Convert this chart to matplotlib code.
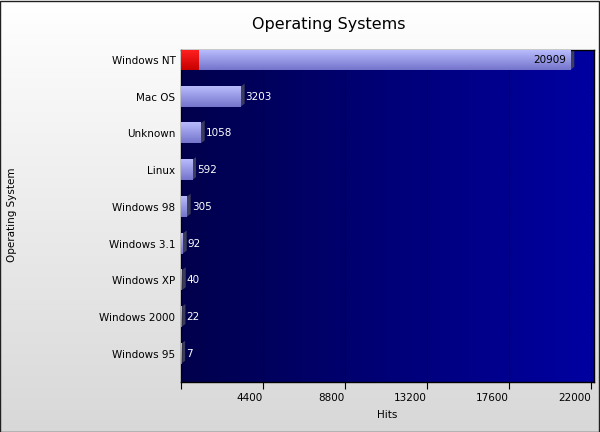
import numpy as np
import matplotlib
matplotlib.use('Agg')
import matplotlib.pyplot as plt
from matplotlib.patches import Rectangle, Polygon
from matplotlib.colors import LinearSegmentedColormap

sistemas = ['Windows NT', 'Mac OS', 'Unknown', 'Linux', 'Windows 98',
            'Windows 3.1', 'Windows XP', 'Windows 2000', 'Windows 95']
hits = [20909, 3203, 1058, 592, 305, 92, 40, 22, 7]
destaque = 920  # red selection on the first bar
ticks_x = [0, 4400, 8800, 13200, 17600, 22000]
rotulos_x = ['', '4400', '8800', '13200', '17600', '22000']

fig = plt.figure(figsize=(6, 4.32), dpi=100)

# figure background: white to light gray
fundo = fig.add_axes([0, 0, 1, 1], zorder=-10)
grad = np.linspace(1.0, 0.0, 256).reshape(-1, 1)
cmap_fundo = LinearSegmentedColormap.from_list('fundo', ['#d8d8d8', '#ffffff'])
fundo.imshow(grad, aspect='auto', cmap=cmap_fundo, extent=[0, 1, 0, 1], origin='upper')
fundo.set_xlim(0, 1)
fundo.set_ylim(0, 1)
fundo.axis('off')
fundo.add_patch(Rectangle((0.0008, 0.001), 0.9975, 0.9975, fill=False,
                          edgecolor='#202020', linewidth=1.0))

ax = fig.add_axes([181 / 600, 1 - 382 / 432, 413 / 600, 332 / 432])
xmax = 22180
ax.set_xlim(0, xmax)
ax.set_ylim(8.77, -0.27)

# plot area gradient
cmap_area = LinearSegmentedColormap.from_list('area', ['#00004c', '#0000a2'])
ax.imshow(np.linspace(0, 1, 256).reshape(1, -1), aspect='auto', cmap=cmap_area,
          extent=[0, xmax, 8.77, -0.27], zorder=0)

for t in ticks_x[1:]:
    ax.axvline(t, color='#000028', linestyle=(0, (1, 1)), linewidth=0.8, zorder=1)

cmap_barra = LinearSegmentedColormap.from_list('barra', ['#b8bcfc', '#7474cc'])
cmap_verm = LinearSegmentedColormap.from_list('verm', ['#ff2020', '#c80000'])
altura = 0.545
px_x = xmax / 413
px_y = 9.04 / 332
for i, (nome, v) in enumerate(zip(sistemas, hits)):
    y0 = i - altura / 2
    y1 = i + altura / 2
    # side face for 3D look
    lado = Polygon([(v, y1), (v, y0), (v + 4 * px_x, y0 - 3 * px_y),
                    (v + 4 * px_x, y1 - 3 * px_y)], closed=True,
                   facecolor='#3c3c5c', edgecolor='none', zorder=2)
    ax.add_patch(lado)
    ax.imshow(np.linspace(0, 1, 64).reshape(-1, 1), aspect='auto', cmap=cmap_barra,
              extent=[0, v, y1, y0], origin='upper', zorder=3)
    if v + 60 * px_x > xmax:
        ax.text(v - 4 * px_x, i, str(v), color='black', fontsize=7.5,
                ha='right', va='center', zorder=5)
    else:
        ax.text(v + 5 * px_x, i, str(v), color='white', fontsize=7.5,
                ha='left', va='center', zorder=5)

ax.imshow(np.linspace(0, 1, 64).reshape(-1, 1), aspect='auto', cmap=cmap_verm,
          extent=[0, destaque, 0 + altura / 2, 0 - altura / 2], origin='upper', zorder=4)

ax.set_yticks(range(len(sistemas)))
ax.set_yticklabels(sistemas, fontsize=7.5)
ax.tick_params(axis='y', length=0, pad=4)
ax.set_xticks(ticks_x)
ax.set_xticklabels(rotulos_x, fontsize=7.5, ha='right')
ax.tick_params(axis='x', length=5, direction='out', pad=3)
for s in ax.spines.values():
    s.set_color('black')
    s.set_linewidth(1.0)

ax.set_xlabel('Hits', fontsize=7.5, labelpad=5)
fig.text(12 / 600, 1 - 215 / 432, 'Operating System', rotation=90, fontsize=7.5,
         ha='center', va='center')
fig.text(329 / 600, 1 - 24 / 432, 'Operating Systems', fontsize=11.5,
         ha='center', va='center')

fig.savefig('out.png', dpi=100)
